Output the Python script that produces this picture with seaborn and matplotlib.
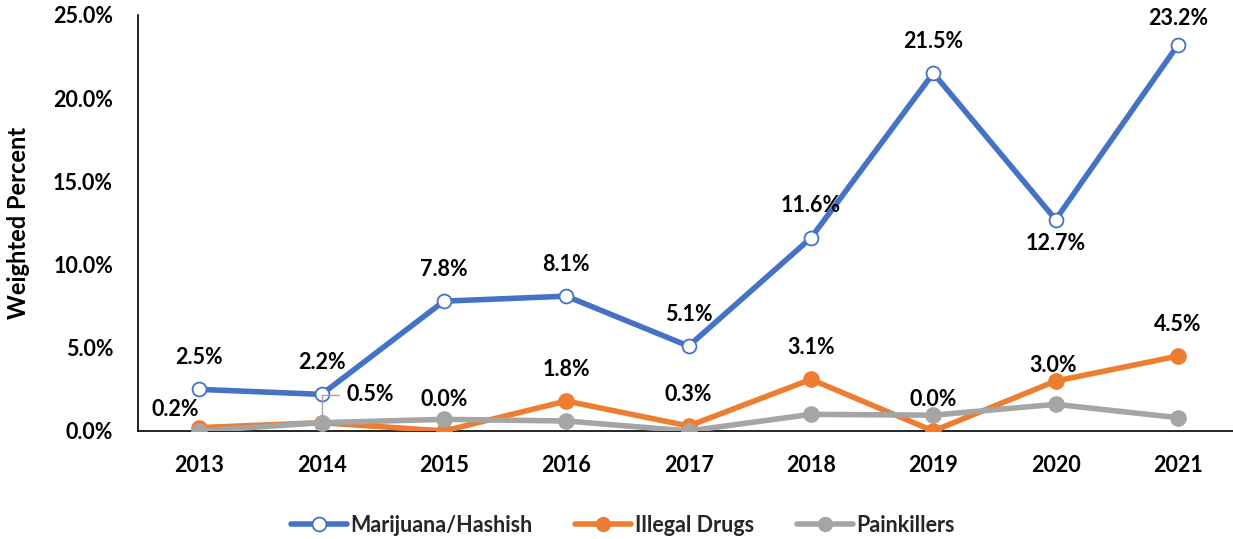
import matplotlib
matplotlib.use("Agg")
import matplotlib.pyplot as plt
import seaborn as sns
import pandas as pd
from matplotlib.lines import Line2D

years = ["2013", "2014", "2015", "2016", "2017", "2018", "2019", "2020", "2021"]
marijuana = [2.5, 2.2, 7.8, 8.1, 5.1, 11.6, 21.5, 12.7, 23.2]
illegal_drugs = [0.2, 0.5, 0.0, 1.8, 0.3, 3.1, 0.0, 3.0, 4.5]
painkillers = [0.0, 0.5, 0.7, 0.6, 0.0, 1.0, 0.95, 1.6, 0.8]
y_ticks = [0, 5, 10, 15, 20, 25]

sns.set_theme(style="white")
plt.rcParams["font.family"] = ["Lato", "DejaVu Sans"]

BLUE, ORANGE, GRAY = "#4472C4", "#ED7D31", "#A5A5A5"
FS = 15.5

fig = plt.figure(figsize=(12.33, 5.39), dpi=100)
ax = fig.add_axes([0.112, 0.2004, 0.893, 0.772])

idx = list(range(len(years)))
df = pd.DataFrame({"i": idx, "mj": marijuana, "il": illegal_drugs, "pk": painkillers})

sns.lineplot(data=df, x="i", y="mj", ax=ax, color=BLUE, linewidth=4,
             marker="o", markersize=10, markerfacecolor="white",
             markeredgecolor=BLUE, markeredgewidth=1.3, zorder=3)
sns.lineplot(data=df, x="i", y="il", ax=ax, color=ORANGE, linewidth=4,
             marker="o", markersize=12, markeredgewidth=0, zorder=4)
sns.lineplot(data=df, x="i", y="pk", ax=ax, color=GRAY, linewidth=4,
             marker="o", markersize=12, markeredgewidth=0, zorder=5)

lab_kw = dict(textcoords="offset points", ha="center", va="center",
              fontsize=FS, fontweight="bold", color="black", zorder=6)

# Marijuana/Hashish labels (above, except the 2020 dip)
for i, v in enumerate(marijuana):
    dy = -17 if years[i] == "2020" else 23
    if years[i] == "2021":
        dy = 19
    ax.annotate(f"{v:.1f}%", (i, v), xytext=(0, dy), **lab_kw)

# Illegal drugs labels
for i, v in enumerate(illegal_drugs):
    off = (0, 23)
    if years[i] == "2013":
        off = (-17, 13)
    elif years[i] == "2020":
        off = (-2, 11)
    elif years[i] == "2014":
        ax.annotate(f"{v:.1f}%", (i, v), xytext=(35, 20),
                    arrowprops=dict(arrowstyle="-", color=GRAY, lw=1,
                                    connectionstyle="angle,angleA=0,angleB=90,rad=0",
                                    relpos=(0, 0.5), shrinkA=3, shrinkB=3),
                    **lab_kw)
        continue
    ax.annotate(f"{v:.1f}%", (i, v), xytext=off, **lab_kw)

ax.set_xlim(-0.5, len(years) - 0.5)
ax.set_ylim(0, 25)
ax.set_xticks(idx)
ax.set_xticklabels(years)
ax.set_yticks(y_ticks)
ax.set_yticklabels([f"{t:.1f}%" for t in y_ticks])
ax.tick_params(axis="both", length=0, labelsize=FS)
ax.tick_params(axis="y", pad=18)
ax.tick_params(axis="x", pad=17)
for lbl in ax.get_xticklabels() + ax.get_yticklabels():
    lbl.set_fontweight("bold")
    lbl.set_color("black")

ax.set_xlabel("")
ax.set_ylabel("Weighted Percent", fontsize=17, fontweight="bold", color="black")
ax.yaxis.set_label_coords(-0.098, 0.5)

for side in ["top", "right"]:
    ax.spines[side].set_visible(False)
for side in ["left", "bottom"]:
    ax.spines[side].set_color("black")
    ax.spines[side].set_linewidth(1.2)

handles = [
    Line2D([], [], color=BLUE, lw=4, marker="o", markersize=10,
           markerfacecolor="white", markeredgecolor=BLUE, markeredgewidth=1.3),
    Line2D([], [], color=ORANGE, lw=4, marker="o", markersize=11, markeredgewidth=0),
    Line2D([], [], color=GRAY, lw=4, marker="o", markersize=11, markeredgewidth=0),
]
fig.legend(handles, ["Marijuana/Hashish", "Illegal Drugs", "Painkillers"],
           loc="center", bbox_to_anchor=(0.505, 0.025), ncol=3, frameon=False,
           handlelength=2.6, handletextpad=0.15, columnspacing=2.0,
           prop={"weight": "bold", "size": FS})

fig.savefig("out.png", dpi=100)
